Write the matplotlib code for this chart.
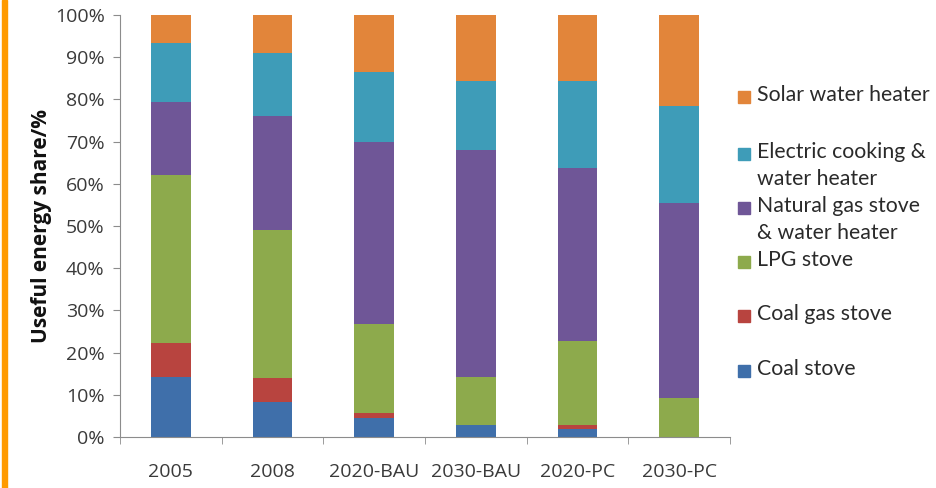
import matplotlib.pyplot as plt
from matplotlib.patches import Rectangle
from matplotlib.ticker import PercentFormatter, FixedLocator

# data (% of useful energy)
scenarios = ["2005", "2008", "2020-BAU", "2030-BAU", "2020-PC", "2030-PC"]
coal_stove = [14.3, 8.2, 4.6, 2.8, 1.8, 0.0]
coal_gas_stove = [7.9, 5.7, 1.2, 0.0, 1.1, 0.0]
lpg_stove = [39.9, 35.2, 21.0, 11.3, 19.9, 9.2]
natural_gas = [17.4, 27.0, 43.1, 53.8, 40.9, 46.3]
electric = [13.9, 14.9, 16.5, 16.5, 20.7, 23.0]
solar = [6.6, 9.0, 13.6, 15.6, 15.6, 21.5]

series = [
    ("Coal stove", coal_stove, "#3F6FAA"),
    ("Coal gas stove", coal_gas_stove, "#B8443F"),
    ("LPG stove", lpg_stove, "#8DAA4C"),
    ("Natural gas stove\n& water heater", natural_gas, "#6F5697"),
    ("Electric cooking &\nwater heater", electric, "#3E9CB8"),
    ("Solar water heater", solar, "#E2853A"),
]

fig = plt.figure(figsize=(9.36, 4.88), dpi=100)
ax = fig.add_axes([120 / 936, 51 / 488, 610 / 936, 422 / 488])

x = range(len(scenarios))
bottom = [0.0] * len(scenarios)
for name, vals, col in series:
    ax.bar(x, vals, width=0.39, bottom=bottom, color=col, label=name)
    bottom = [b + v for b, v in zip(bottom, vals)]

ax.set_xlim(-0.5, len(scenarios) - 0.5)
ax.set_ylim(0, 100)
ax.yaxis.set_major_locator(FixedLocator(range(0, 101, 10)))
ax.yaxis.set_major_formatter(PercentFormatter(decimals=0))
ax.set_xticks(list(x))
ax.set_xticklabels(scenarios, fontfamily="Open Sans", fontsize=14, color="#3A3A3A")
ax.set_xticks([i + 0.5 for i in range(-1, len(scenarios))], minor=True)
for lab in ax.get_yticklabels():
    lab.set_fontfamily("Open Sans")
    lab.set_fontsize(14)
    lab.set_color("#3A3A3A")

for s in ["top", "right"]:
    ax.spines[s].set_visible(False)
for s in ["left", "bottom"]:
    ax.spines[s].set_color("#8C8C8C")
ax.tick_params(axis="x", which="major", length=0, pad=19)
ax.tick_params(axis="x", which="minor", length=5, color="#8C8C8C", direction="out")
ax.tick_params(axis="y", length=5, color="#8C8C8C", pad=6)

ax.set_ylabel("Useful energy share/%", fontfamily="Open Sans", fontsize=15,
              fontweight="bold", color="#111111", labelpad=2)

# legend drawn by hand so that the squares sit on the first text line
leg_rows = [97, 154, 208, 262, 316, 371]
for (name, vals, col), ypix in zip(reversed(series), leg_rows):
    yf = 1 - ypix / 488
    fig.patches.append(Rectangle((738 / 936, yf - 6 / 488), 12 / 936, 12 / 488,
                                 transform=fig.transFigure, color=col))
    fig.text(757 / 936, yf + 12 / 488, name, fontfamily="Lato", fontsize=15.3,
             color="#2A2A2A", va="top", ha="left", linespacing=1.45)

# orange stripe on the left edge
fig.patches.append(Rectangle((2 / 936, 0), 5 / 936, 1, transform=fig.transFigure,
                             color="#FF9A00"))

fig.savefig("out.png", dpi=100)
